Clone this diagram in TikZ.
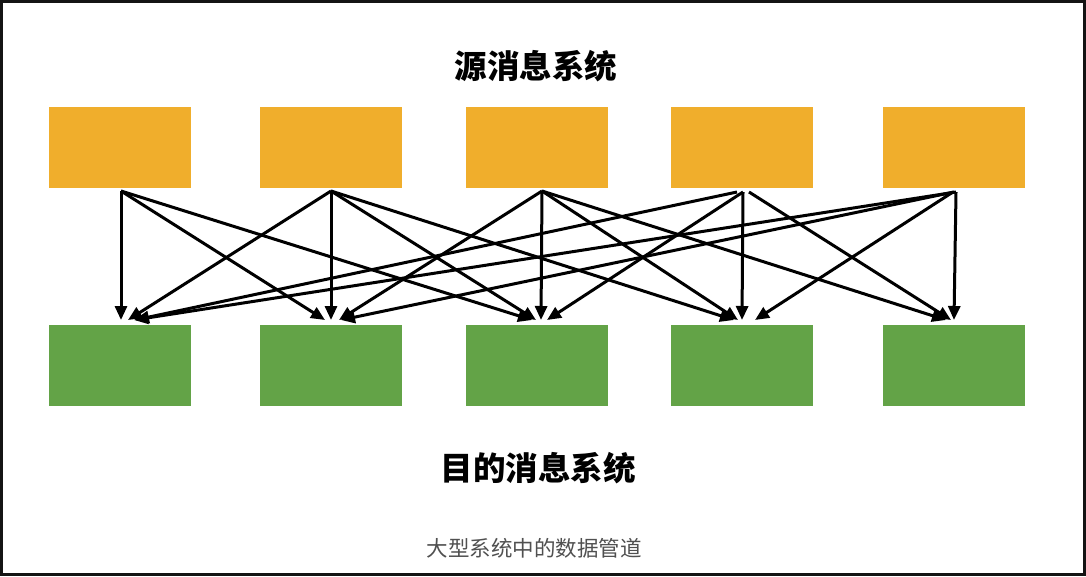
\documentclass[tikz,border=0pt]{standalone}
\usepackage{fontspec}
\newfontfamily\cjk{Noto Sans CJK SC}
\usetikzlibrary{arrows.meta}
\definecolor{srcc}{RGB}{240,174,44}
\definecolor{dstc}{RGB}{99,163,71}
\definecolor{capc}{RGB}{80,80,80}
\definecolor{framec}{RGB}{20,20,20}
\begin{document}
\begin{tikzpicture}[x=1pt,y=-1pt,
  srcbox/.style={fill=srcc,minimum width=142pt,minimum height=81pt,inner sep=0pt,draw=none},
  dstbox/.style={fill=dstc,minimum width=142pt,minimum height=81pt,inner sep=0pt,draw=none},
  arr/.style={line width=3pt,-{Triangle[length=14pt,width=12pt]}},
  title/.style={font=\cjk\bfseries\fontsize{32.5}{38}\selectfont,inner sep=0pt},
  caption/.style={font=\cjk\fontsize{21.5}{25}\selectfont,text=capc,inner sep=0pt}]
\fill[white] (0,0) rectangle (1086,576);
\useasboundingbox (0,0) rectangle (1086,576);
\draw[line width=3pt,framec] (1.5,1.5) rectangle (1084.5,574.5);

\node[title] (top) at (536,66) {源消息系统};
\node[title] (bot) at (538,468) {目的消息系统};
\node[caption] (cap) at (534,548) {大型系统中的数据管道};

\node[srcbox] (a1) at (120,147.5) {};
\node[srcbox] (a2) at (331,147.5) {};
\node[srcbox] (a3) at (537,147.5) {};
\node[srcbox] (a4) at (742,147.5) {};
\node[srcbox] (a5) at (954,147.5) {};
\node[dstbox] (b1) at (120,365.5) {};
\node[dstbox] (b2) at (331,365.5) {};
\node[dstbox] (b3) at (537,365.5) {};
\node[dstbox] (b4) at (742,365.5) {};
\node[dstbox] (b5) at (954,365.5) {};

\coordinate (s1) at (121,191);
\coordinate (s2) at (331,191);
\coordinate (s3) at (542,191);
\coordinate (s4) at (743,192);
\coordinate (s5) at (956,192);
\coordinate (t1) at (121,320);
\coordinate (t2) at (331,320);
\coordinate (t3) at (541,320);
\coordinate (t4) at (742,320);
\coordinate (t5) at (954,320);

% source 1
\draw[arr] (s1) -- (t1);
\draw[arr] (s1) -- ([xshift=-6pt]t2);
\draw[arr] (s1) -- ([xshift=-9pt]t3);
% source 2
\draw[arr] (s2) -- ([xshift=7pt]t1);
\draw[arr] (s2) -- (t2);
\draw[arr] (s2) -- ([xshift=-5pt]t3);
\draw[arr] (s2) -- ([xshift=-8pt]t4);
% source 3
\draw[arr] (s3) -- ([xshift=8pt]t2);
\draw[arr] (s3) -- (t3);
\draw[arr] (s3) -- ([xshift=-4pt]t4);
\draw[arr] (s3) -- ([xshift=-8pt]t5);
% source 4
\draw[arr] ([xshift=-6pt]s4) -- ([xshift=14pt]t1);
\draw[arr] (s4) -- ([xshift=6pt]t3);
\draw[arr] (s4) -- (t4);
\draw[arr] ([xshift=6pt]s4) -- ([xshift=-3pt]t5);
% source 5
\draw[arr] (s5) -- ([xshift=13pt]t1);
\draw[arr] ([xshift=-2pt]s5) -- ([xshift=10pt]t2);
\draw[arr] ([xshift=-3pt]s5) -- ([xshift=13pt]t4);
\draw[arr] (s5) -- (t5);
\end{tikzpicture}
\end{document}
